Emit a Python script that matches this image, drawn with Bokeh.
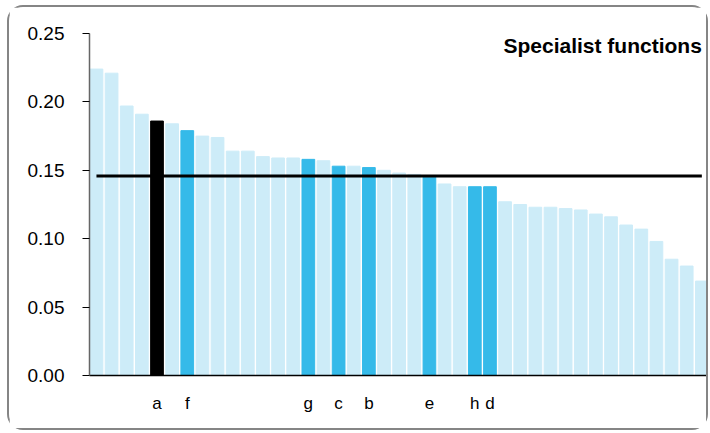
from bokeh.plotting import figure
from bokeh.models import ColumnDataSource, FixedTicker, NumeralTickFormatter, Range1d, Label
from bokeh.embed import file_html
from bokeh.resources import INLINE

# ---- data ----
values = [0.224, 0.221, 0.197, 0.191, 0.186, 0.184, 0.179, 0.175, 0.174, 0.164,
          0.164, 0.160, 0.159, 0.159, 0.158, 0.157, 0.153, 0.153, 0.152, 0.150,
          0.148, 0.147, 0.145, 0.140, 0.138, 0.138, 0.138, 0.127, 0.125, 0.123,
          0.123, 0.122, 0.121, 0.118, 0.116, 0.110, 0.107, 0.098, 0.085, 0.080,
          0.069]
labels = ["", "", "", "", "a", "", "f", "", "", "",
          "", "", "", "", "g", "", "c", "", "b", "",
          "", "", "e", "", "", "h", "d", "", "", "",
          "", "", "", "", "", "", "", "", "", "",
          ""]
groups = ["other", "other", "other", "other", "focus", "other", "named", "other", "other", "other",
          "other", "other", "other", "other", "named", "other", "named", "other", "named", "other",
          "other", "other", "named", "other", "other", "named", "named", "other", "other", "other",
          "other", "other", "other", "other", "other", "other", "other", "other", "other", "other",
          "other"]
average = 0.1458
y_ticks = [0.0, 0.05, 0.10, 0.15, 0.20, 0.25]
title_text = "Specialist functions"

colour_map = {"other": "#CDECF8", "named": "#35BAE9", "focus": "#000000"}

positions = list(range(1, len(values) + 1))
source = ColumnDataSource(dict(
    x=positions,
    top=values,
    color=[colour_map[g] for g in groups],
))

p = figure(width=701, height=425, output_backend="svg", toolbar_location=None,
           x_range=Range1d(0.54, 41.44), y_range=Range1d(0, 0.25),
           min_border_left=80, min_border_right=2, min_border_top=26, min_border_bottom=57)
p.styles = {"border": "2px solid #858585", "border-radius": "16px",
            "margin-left": "7px", "margin-top": "5px"}

p.vbar(x="x", top="top", width=0.84, color="color", source=source)
p.segment(x0=[positions[0]], x1=[positions[-1]], y0=[average], y1=[average],
          line_color="black", line_width=3)

p.xgrid.visible = False
p.ygrid.visible = False
p.outline_line_color = None
p.background_fill_color = "white"
p.border_fill_color = "white"

# x axis: letters under highlighted bars
tick_pos = [x for x, l in zip(positions, labels) if l]
p.xaxis.ticker = FixedTicker(ticks=tick_pos)
p.xaxis.major_label_overrides = {x: l for x, l in zip(positions, labels) if l}
p.xaxis.major_tick_line_color = None
p.xaxis.minor_tick_line_color = None
p.xaxis.axis_line_color = "black"
p.xaxis.axis_line_width = 1.5
p.xaxis.major_label_text_font = "Liberation Sans"
p.xaxis.major_label_text_font_size = "17px"
p.xaxis.major_label_text_color = "black"
p.xaxis.major_label_standoff = 12

# y axis
p.yaxis.ticker = FixedTicker(ticks=y_ticks)
p.yaxis.formatter = NumeralTickFormatter(format="0.00")
p.yaxis.minor_tick_line_color = None
p.yaxis.major_tick_in = 0
p.yaxis.major_tick_out = 7
p.yaxis.major_tick_line_color = "black"
p.yaxis.axis_line_color = "#666666"
p.yaxis.axis_line_width = 1.5
p.yaxis.major_label_text_font = "Liberation Sans"
p.yaxis.major_label_text_font_size = "19px"
p.yaxis.major_label_text_color = "black"
p.yaxis.major_label_standoff = 18

title = Label(x=41.0, y=0.241, text=title_text, text_align="right", text_baseline="alphabetic",
              text_font="Liberation Sans", text_font_size="21px", text_font_style="bold",
              text_color="black")
p.add_layout(title)

open("out.html", "w").write(file_html(p, INLINE))
